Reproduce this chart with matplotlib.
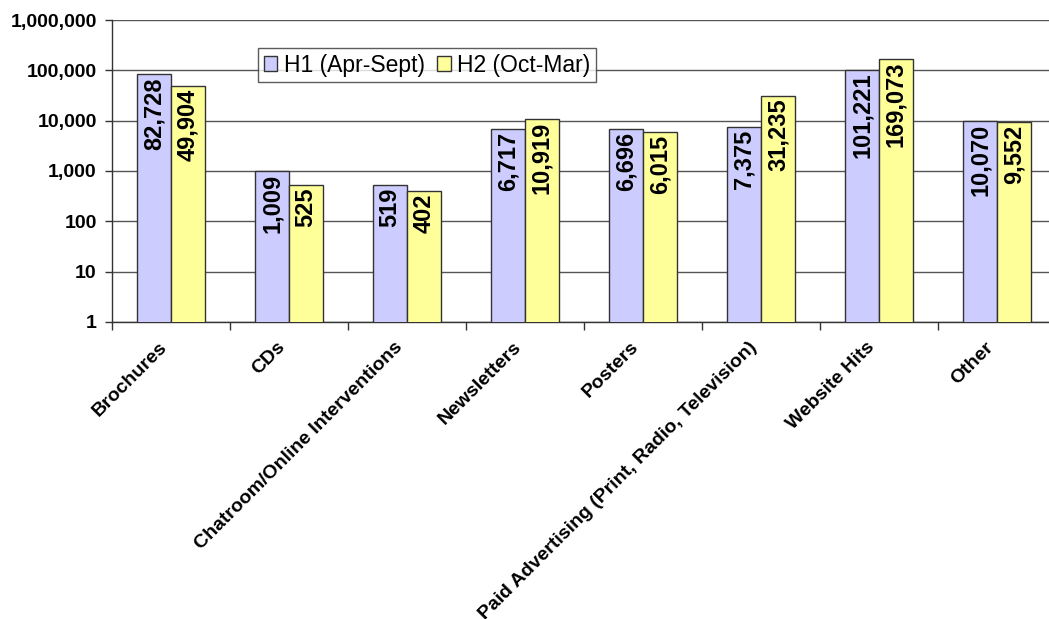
import matplotlib
matplotlib.use("Agg")
import matplotlib.pyplot as plt
from matplotlib.ticker import FixedLocator, FuncFormatter, NullLocator
import numpy as np

categories = ["Brochures", "CDs", "Chatroom/Online Interventions", "Newsletters",
              "Posters", "Paid Advertising (Print, Radio, Television)",
              "Website Hits", "Other"]
h1_values = [82728, 1009, 519, 6717, 6696, 7375, 101221, 10070]
h2_values = [49904, 525, 402, 10919, 6015, 31235, 169073, 9552]
series_names = ["H1 (Apr-Sept)", "H2 (Oct-Mar)"]
y_ticks = [1, 10, 100, 1000, 10000, 100000, 1000000]

plt.rcParams['font.family'] = ['Liberation Sans', 'DejaVu Sans']

fig = plt.figure(figsize=(10.49, 6.19), dpi=100)
ax = fig.add_axes([112 / 1049, 1 - 322 / 619, 944 / 1049, 302 / 619])

x = np.arange(len(categories))
w = 0.288
bars1 = ax.bar(x - w / 2, h1_values, w, color="#CCCCFF", edgecolor="#333333",
               linewidth=1, label=series_names[0], zorder=3)
bars2 = ax.bar(x + w / 2, h2_values, w, color="#FFFF99", edgecolor="#333333",
               linewidth=1, label=series_names[1], zorder=3)

ax.set_yscale("log")
ax.set_ylim(1, 1000000)
ax.set_xlim(-0.5, len(categories) - 0.5)
ax.yaxis.set_major_locator(FixedLocator(y_ticks))
ax.yaxis.set_minor_locator(NullLocator())
ax.yaxis.set_major_formatter(FuncFormatter(lambda v, p: f"{int(round(v)):,}"))
ax.grid(axis="y", color="#555555", linewidth=1, zorder=0)

for lab in ax.get_yticklabels():
    lab.set_fontweight("bold")
    lab.set_fontsize(14)
ax.tick_params(axis="y", length=5, width=1, color="#333333", pad=6)

# category boundaries as x ticks, category names as rotated labels
ax.xaxis.set_major_locator(FixedLocator(np.arange(len(categories) + 1) - 0.5))
ax.xaxis.set_major_formatter(FuncFormatter(lambda v, p: ""))
ax.tick_params(axis="x", length=6, width=1, color="#333333")
for i, name in enumerate(categories):
    ax.annotate(name, xy=(i, 1), xycoords=("data", "data"),
                xytext=(-9, -12), textcoords="offset points",
                rotation=45, ha="right", va="top", rotation_mode="anchor",
                fontsize=14, fontweight="bold")

for spine in ("top", "right"):
    ax.spines[spine].set_visible(False)
for spine in ("left", "bottom"):
    ax.spines[spine].set_color("#333333")
    ax.spines[spine].set_linewidth(1)

# value labels inside bar tops
for bars, vals in ((bars1, h1_values), (bars2, h2_values)):
    for b, v in zip(bars, vals):
        ax.annotate(f"{v:,}", xy=(b.get_x() + b.get_width() / 2, v),
                    xytext=(0, -2), textcoords="offset points",
                    rotation=90, ha="center", va="top",
                    fontsize=17, fontweight="bold", zorder=4)

leg = ax.legend(loc="upper left", bbox_to_anchor=(146 / 944, 1 - 28 / 302),
                ncol=2, fontsize=16.5, frameon=True, fancybox=False,
                edgecolor="#333333", handlelength=0.6, handleheight=0.6,
                handletextpad=0.3, columnspacing=0.5, borderpad=0.25,
                borderaxespad=0)
leg.get_frame().set_linewidth(1)
leg.set_zorder(5)

fig.savefig("out.png", dpi=100)
